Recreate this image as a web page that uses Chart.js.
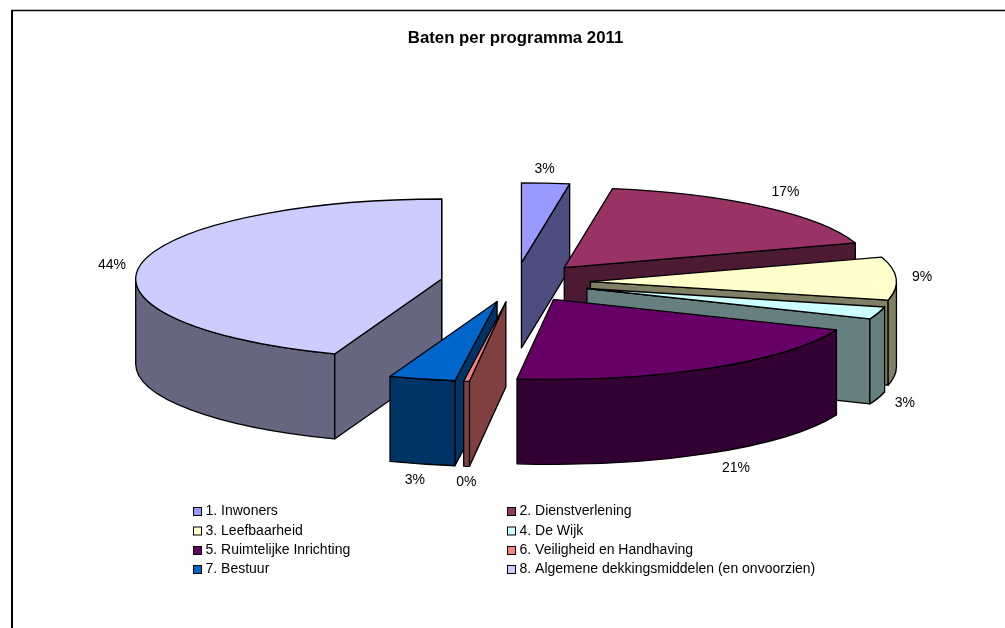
<!DOCTYPE html>
<html>
<head>
<meta charset="utf-8">
<title>Baten per programma 2011</title>
<script src="https://cdn.jsdelivr.net/npm/chart.js@4"></script>
<style>
body { margin: 0; background: #fff; }
canvas { display: block; }
</style>
</head>
<body>
<canvas id="mycanvas" width="1005" height="628"></canvas>
<script>
var programmas = ['1. Inwoners', '2. Dienstverlening', '3. Leefbaarheid', '4. De Wijk',
	'5. Ruimtelijke Inrichting', '6. Veiligheid en Handhaving', '7. Bestuur',
	'8. Algemene dekkingsmiddelen (en onvoorzien)'];
var aandeel = [2.52, 17.49, 8.7, 2.5, 20.69, 0.3, 3.49, 44.31];
var kleuren = ['#9999FF', '#993366', '#FFFFCC', '#CCFFFF', '#660066', '#FF8080', '#0066CC', '#CCCCFF'];
var zijkanten = ['#4D4D80', '#4D1A33', '#808066', '#668080', '#330033', '#804040', '#003366', '#666680'];

var FONT = '"Liberation Sans", Arial, sans-serif';
var PIE_Y = 282.5;      // screen y of the pie centre
var TILT = 80 / 306;    // flattening of the pie
var DEPTH = 85;
var EXPLODE = 75;       // slices are pushed out this far
var RADIUS = 306;
var labelShift = [[-3, 1], [6, -3], [1, -1], [3, 0], [15, 2], [3, 1], [-1, 2], [-4, 3]];

// everything 3d happens here, the arcs themselves still come from the pie controller
var pie3d = {
	id: 'pie3d',
	beforeDatasetsDraw: function(chart) {
		var ctx = chart.ctx;
		var arcs = chart.getDatasetMeta(0).data.map(function(arc, i) { return {arc: arc, i: i}; });

		// back slices first
		arcs.sort(function(a, b) {
			return Math.sin(midAngle(a.arc)) - Math.sin(midAngle(b.arc));
		});

		arcs.forEach(function(item) {
			var arc = item.arc;
			var mid = midAngle(arc);
			var vx = arc.x + Math.cos(mid) * EXPLODE;
			var vy = PIE_Y + Math.sin(mid) * EXPLODE * TILT;

			ctx.save();
			ctx.lineWidth = 1.3;
			ctx.strokeStyle = '#000';
			ctx.lineJoin = 'round';
			ctx.fillStyle = zijkanten[item.i];
			drawWalls(ctx, vx, vy, arc.startAngle, arc.endAngle);

			// top face: the library's own arc, squashed and pushed out
			ctx.save();
			ctx.translate(vx - arc.x, vy);
			ctx.scale(1, TILT);
			ctx.translate(0, -arc.y);
			arc.draw(ctx);
			ctx.restore();

			// outline in screen space so the pen is not squashed with it
			ctx.beginPath();
			ctx.moveTo(vx, vy);
			ctx.ellipse(vx, vy, RADIUS, RADIUS * TILT, 0, arc.startAngle, arc.endAngle);
			ctx.closePath();
			ctx.stroke();
			ctx.restore();
		});

		drawPercents(ctx, chart);
		drawLegend(ctx, chart);
		return false;
	}
};

function midAngle(arc) {
	return (arc.startAngle + arc.endAngle) / 2;
}

function rim(vx, vy, a) {
	return {x: vx + Math.cos(a) * RADIUS, y: vy + Math.sin(a) * RADIUS * TILT};
}

function drawWalls(ctx, vx, vy, a0, a1) {
	var twoPi = Math.PI * 2;

	// cut faces, only those turned to the viewer
	[[a0, -1], [a1, 1]].forEach(function(face) {
		var a = face[0];
		if (Math.sin(a + face[1] * Math.PI / 2) <= 0) return;
		var p = rim(vx, vy, a);
		ctx.beginPath();
		ctx.moveTo(vx, vy);
		ctx.lineTo(p.x, p.y);
		ctx.lineTo(p.x, p.y + DEPTH);
		ctx.lineTo(vx, vy + DEPTH);
		ctx.closePath();
		ctx.fill();
		ctx.stroke();
	});

	// round face, the part between 0 and pi is the front of the ellipse
	var ranges = [[0, Math.PI], [twoPi, twoPi + Math.PI]];
	ranges.forEach(function(r) {
		var from = Math.max(a0, r[0]);
		var to = Math.min(a1, r[1]);
		if (to <= from) return;
		ctx.beginPath();
		ctx.ellipse(vx, vy, RADIUS, RADIUS * TILT, 0, from, to);
		ctx.ellipse(vx, vy + DEPTH, RADIUS, RADIUS * TILT, 0, to, from, true);
		ctx.closePath();
		ctx.fill();
		ctx.stroke();
	});
}

function drawPercents(ctx, chart) {
	var total = aandeel.reduce(function(s, v) { return s + v; }, 0);
	ctx.save();
	ctx.font = '14px ' + FONT;
	ctx.fillStyle = '#000';
	ctx.textAlign = 'center';
	ctx.textBaseline = 'middle';
	chart.getDatasetMeta(0).data.forEach(function(arc, i) {
		var mid = midAngle(arc);
		var vx = arc.x + Math.cos(mid) * EXPLODE;
		var vy = PIE_Y + Math.sin(mid) * EXPLODE * TILT;
		var p = rim(vx, vy, mid);
		var x = p.x + Math.cos(mid) * 25 + labelShift[i][0];
		var y = p.y + Math.sin(mid) * 15 + (Math.sin(mid) > 0 ? DEPTH : 0) + labelShift[i][1];
		ctx.fillText(Math.round(aandeel[i] / total * 100) + '%', x, y);
	});
	ctx.restore();
}

function drawLegend(ctx, chart) {
	var items = Chart.overrides.pie.plugins.legend.labels.generateLabels(chart);
	var colX = [193.5, 507.5];
	var rowY = [511.5, 531, 550.5, 569.5];
	ctx.save();
	ctx.font = '14px ' + FONT;
	ctx.textBaseline = 'middle';
	items.forEach(function(item, i) {
		var x = colX[i % 2];
		var y = rowY[Math.floor(i / 2)];
		ctx.fillStyle = item.fillStyle;
		ctx.strokeStyle = '#000';
		ctx.lineWidth = 1;
		ctx.fillRect(x, y - 4, 8, 8);
		ctx.strokeRect(x, y - 4, 8, 8);
		ctx.fillStyle = '#000';
		ctx.fillText(item.text, x + 12, y);
	});
	ctx.restore();
}

// frame of the chart, only top and left fall inside the picture
var frame = {
	id: 'frame',
	beforeDraw: function(chart) {
		var ctx = chart.ctx;
		ctx.save();
		ctx.strokeStyle = '#000';
		ctx.lineWidth = 1.5;
		ctx.beginPath();
		ctx.moveTo(11, 10.5);
		ctx.lineTo(chart.width, 10.5);
		ctx.stroke();
		ctx.lineWidth = 2;
		ctx.beginPath();
		ctx.moveTo(12, 10);
		ctx.lineTo(12, chart.height);
		ctx.stroke();
		ctx.restore();
	}
};

var ctx = document.getElementById('mycanvas');

new Chart(ctx, {
	type: 'pie',
	data: {
		labels: programmas,
		datasets: [{
			data: aandeel,
			backgroundColor: kleuren,
			borderWidth: 0
		}]
	},
	options: {
		responsive: false,
		animation: false,
		radius: RADIUS,
		layout: { padding: { left: 26 } },
		plugins: {
			legend: { display: false },
			tooltip: { enabled: false },
			title: {
				display: true,
				text: 'Baten per programma 2011',
				color: '#000',
				font: { family: FONT, size: 16.8, weight: 'bold' },
				padding: { top: 28, bottom: 10 }
			}
		}
	},
	plugins: [frame, pie3d]
});
</script>
</body>
</html>
